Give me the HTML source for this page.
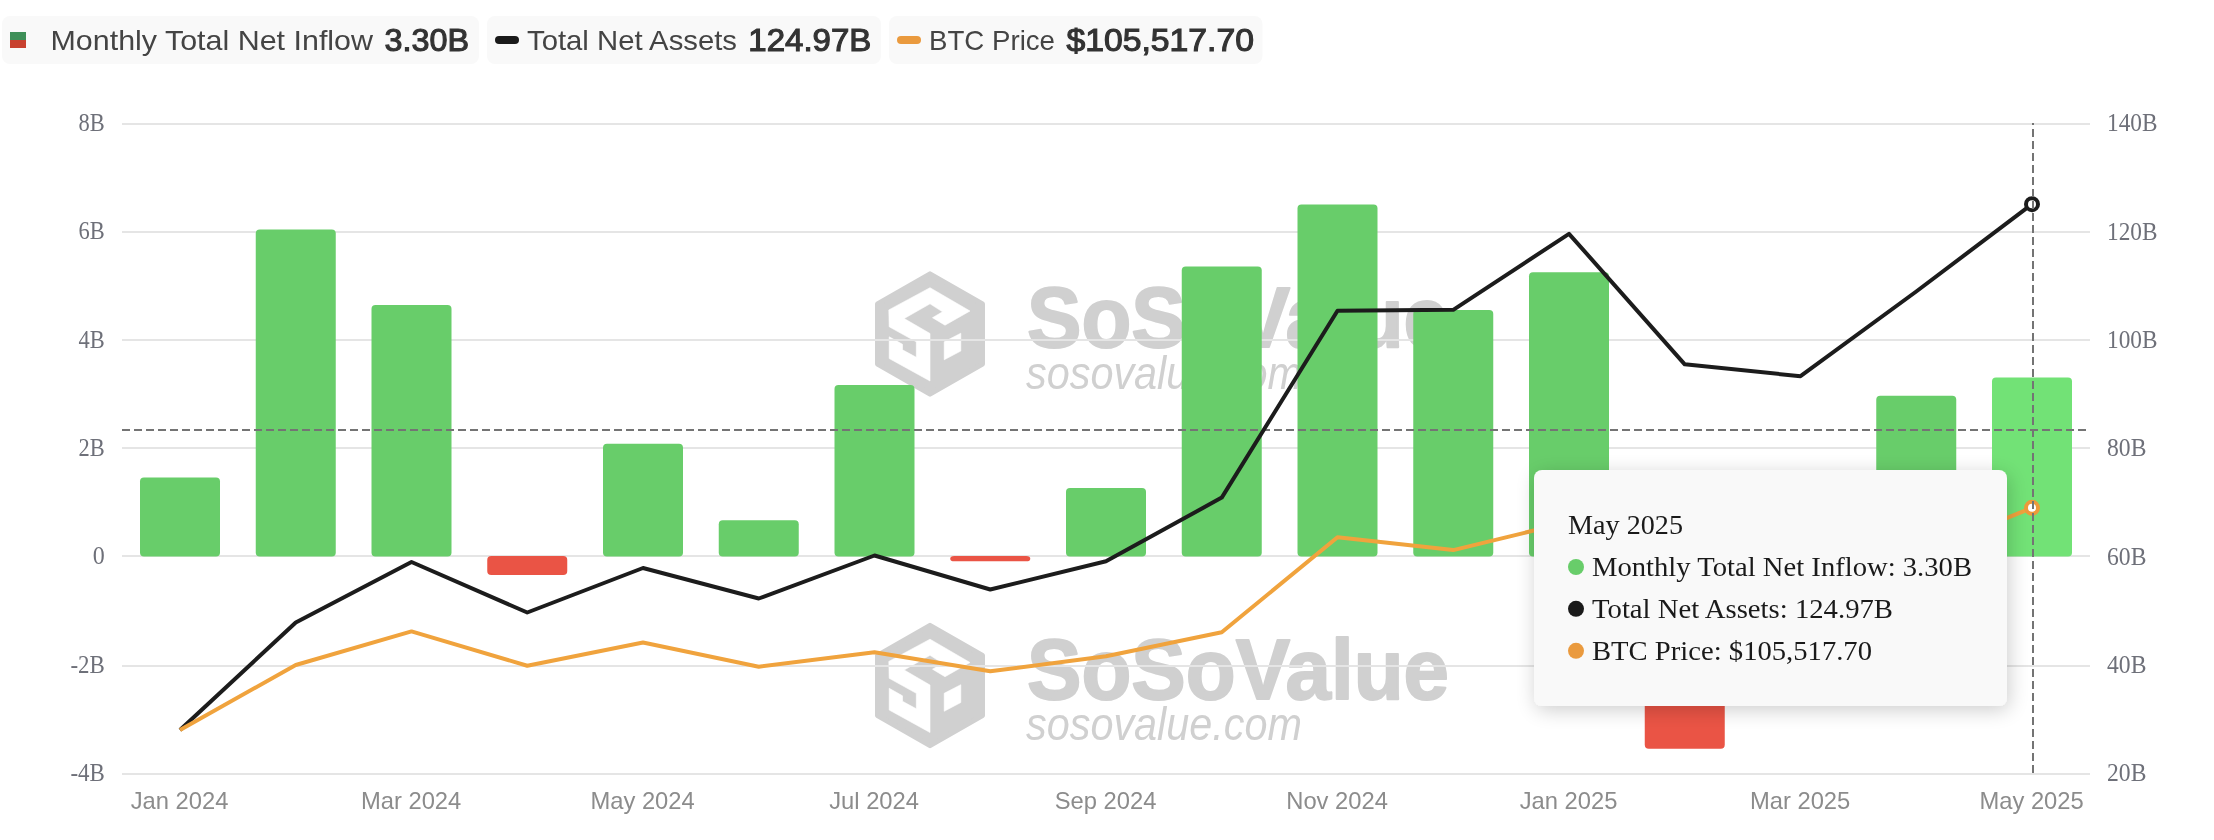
<!DOCTYPE html>
<html><head><meta charset="utf-8"><title>chart</title>
<style>
html,body{margin:0;padding:0;background:#fff;}
svg{display:block;will-change:transform;}
</style></head><body>
<svg width="2214" height="840" viewBox="0 0 2214 840">
<defs>
<filter id="shadow" x="-20%" y="-30%" width="140%" height="160%">
<feGaussianBlur in="SourceAlpha" stdDeviation="10"/>
<feOffset dx="2" dy="4" result="b"/>
<feComponentTransfer><feFuncA type="linear" slope="0.2"/></feComponentTransfer>
<feMerge><feMergeNode/><feMergeNode in="SourceGraphic"/></feMerge>
</filter>
</defs>
<rect x="0" y="0" width="2214" height="840" fill="#ffffff"/>

<g>
<rect x="2" y="16" width="477" height="48" rx="8" fill="#f9f9f9"/>
<rect x="487" y="16" width="394" height="48" rx="8" fill="#f9f9f9"/>
<rect x="889" y="16" width="373.5" height="48" rx="8" fill="#f9f9f9"/>
<rect x="10" y="32" width="16" height="8" fill="#3e8f58"/>
<rect x="10" y="40" width="16" height="8" fill="#c8412f"/>
<rect x="495" y="36" width="24" height="8" rx="4" fill="#1a1a1a"/>
<rect x="897" y="36" width="24" height="8" rx="4" fill="#ea9a3e"/>
<text x="50.5" y="49.6" font-family='"Liberation Sans", sans-serif' font-size="28" font-weight="normal" font-style="normal" fill="#444444" text-anchor="start" textLength="322.5" lengthAdjust="spacingAndGlyphs">Monthly Total Net Inflow</text>
<text x="384.5" y="51.4" font-family='"Liberation Sans", sans-serif' font-size="31" font-weight="normal" font-style="normal" fill="#333333" text-anchor="start" textLength="84.5" lengthAdjust="spacingAndGlyphs" stroke="#333333" stroke-width="1.1">3.30B</text>
<text x="527" y="49.6" font-family='"Liberation Sans", sans-serif' font-size="28" font-weight="normal" font-style="normal" fill="#444444" text-anchor="start" textLength="210" lengthAdjust="spacingAndGlyphs">Total Net Assets</text>
<text x="748.3" y="51.4" font-family='"Liberation Sans", sans-serif' font-size="31" font-weight="normal" font-style="normal" fill="#333333" text-anchor="start" textLength="123" lengthAdjust="spacingAndGlyphs" stroke="#333333" stroke-width="1.1">124.97B</text>
<text x="929" y="49.6" font-family='"Liberation Sans", sans-serif' font-size="28" font-weight="normal" font-style="normal" fill="#444444" text-anchor="start" textLength="126" lengthAdjust="spacingAndGlyphs">BTC Price</text>
<text x="1066.5" y="51.4" font-family='"Liberation Sans", sans-serif' font-size="31" font-weight="normal" font-style="normal" fill="#333333" text-anchor="start" textLength="187.5" lengthAdjust="spacingAndGlyphs" stroke="#333333" stroke-width="1.1">$105,517.70</text>
</g>
<path d="M930,273.8 L982.5,304 L982.5,364 L930,394.2 L877.5,364 L877.5,304 Z" fill="#d0d0d0" stroke="#d0d0d0" stroke-width="5" stroke-linejoin="round"/>
<path d="M888.8,309.9 L930.0,287.7 L970.0,311.0 L945.0,325.2 L932.5,317.7 L942.5,311.8 L930.0,303.8 L904.2,318.5 L930.0,333.5 L930.0,381.0 L889.2,358.5 L889.2,336.8 L902.5,344.3 L902.5,349.8 L916.3,357.3 L916.3,341.8 L889.2,326.8 Z" fill="#ffffff" stroke="#ffffff" stroke-width="0.6" stroke-linejoin="round"/>
<path d="M944.2,341.8 L960.8,333.2 L960.8,351.0 L944.2,359.8 Z" fill="#ffffff" stroke="#ffffff" stroke-width="0.6" stroke-linejoin="round"/>
<text x="1027" y="347" font-family='"Liberation Sans", sans-serif' font-size="86" font-weight="bold" font-style="normal" fill="#d0d0d0" text-anchor="start" textLength="422" lengthAdjust="spacingAndGlyphs" stroke="#d0d0d0" stroke-width="2" stroke-linejoin="round">SoSoValue</text>
<text x="1026" y="388.5" font-family='"Liberation Sans", sans-serif' font-size="46" font-weight="normal" font-style="italic" fill="#d0d0d0" text-anchor="start" textLength="276" lengthAdjust="spacingAndGlyphs">sosovalue.com</text>
<path d="M930,625.3 L982.5,655.5 L982.5,715.5 L930,745.7 L877.5,715.5 L877.5,655.5 Z" fill="#d0d0d0" stroke="#d0d0d0" stroke-width="5" stroke-linejoin="round"/>
<path d="M888.8,661.4 L930.0,639.2 L970.0,662.5 L945.0,676.7 L932.5,669.2 L942.5,663.3 L930.0,655.3 L904.2,670.0 L930.0,685.0 L930.0,732.5 L889.2,710.0 L889.2,688.3 L902.5,695.8 L902.5,701.3 L916.3,708.8 L916.3,693.3 L889.2,678.3 Z" fill="#ffffff" stroke="#ffffff" stroke-width="0.6" stroke-linejoin="round"/>
<path d="M944.2,693.3 L960.8,684.7 L960.8,702.5 L944.2,711.3 Z" fill="#ffffff" stroke="#ffffff" stroke-width="0.6" stroke-linejoin="round"/>
<text x="1027" y="698.5" font-family='"Liberation Sans", sans-serif' font-size="86" font-weight="bold" font-style="normal" fill="#d0d0d0" text-anchor="start" textLength="422" lengthAdjust="spacingAndGlyphs" stroke="#d0d0d0" stroke-width="2" stroke-linejoin="round">SoSoValue</text>
<text x="1026" y="740.2" font-family='"Liberation Sans", sans-serif' font-size="46" font-weight="normal" font-style="italic" fill="#d0d0d0" text-anchor="start" textLength="276" lengthAdjust="spacingAndGlyphs">sosovalue.com</text>
<rect x="122" y="123" width="1968" height="2" fill="#e5e5e5"/>
<rect x="122" y="231" width="1968" height="2" fill="#e5e5e5"/>
<rect x="122" y="339" width="1968" height="2" fill="#e5e5e5"/>
<rect x="122" y="447" width="1968" height="2" fill="#e5e5e5"/>
<rect x="122" y="555" width="1968" height="2" fill="#e5e5e5"/>
<rect x="122" y="665" width="1968" height="2" fill="#e5e5e5"/>
<rect x="122" y="773" width="1968" height="2" fill="#e5e5e5"/>
<text x="104.8" y="131.1" font-family='"Liberation Serif", serif' font-size="24.6" font-weight="normal" font-style="normal" fill="#6e7079" text-anchor="end" textLength="26.2" lengthAdjust="spacingAndGlyphs">8B</text>
<text x="104.8" y="239.4" font-family='"Liberation Serif", serif' font-size="24.6" font-weight="normal" font-style="normal" fill="#6e7079" text-anchor="end" textLength="26.2" lengthAdjust="spacingAndGlyphs">6B</text>
<text x="104.8" y="347.8" font-family='"Liberation Serif", serif' font-size="24.6" font-weight="normal" font-style="normal" fill="#6e7079" text-anchor="end" textLength="26.2" lengthAdjust="spacingAndGlyphs">4B</text>
<text x="104.8" y="456.1" font-family='"Liberation Serif", serif' font-size="24.6" font-weight="normal" font-style="normal" fill="#6e7079" text-anchor="end" textLength="26.2" lengthAdjust="spacingAndGlyphs">2B</text>
<text x="104.8" y="564.4" font-family='"Liberation Serif", serif' font-size="24.6" font-weight="normal" font-style="normal" fill="#6e7079" text-anchor="end" textLength="12" lengthAdjust="spacingAndGlyphs">0</text>
<text x="104.8" y="672.8" font-family='"Liberation Serif", serif' font-size="24.6" font-weight="normal" font-style="normal" fill="#6e7079" text-anchor="end" textLength="34.4" lengthAdjust="spacingAndGlyphs">-2B</text>
<text x="104.8" y="781.1" font-family='"Liberation Serif", serif' font-size="24.6" font-weight="normal" font-style="normal" fill="#6e7079" text-anchor="end" textLength="34.4" lengthAdjust="spacingAndGlyphs">-4B</text>
<text x="2107" y="131.2" font-family='"Liberation Serif", serif' font-size="24.6" font-weight="normal" font-style="normal" fill="#6e7079" text-anchor="start" textLength="50.5" lengthAdjust="spacingAndGlyphs">140B</text>
<text x="2107" y="239.5" font-family='"Liberation Serif", serif' font-size="24.6" font-weight="normal" font-style="normal" fill="#6e7079" text-anchor="start" textLength="50.5" lengthAdjust="spacingAndGlyphs">120B</text>
<text x="2107" y="347.9" font-family='"Liberation Serif", serif' font-size="24.6" font-weight="normal" font-style="normal" fill="#6e7079" text-anchor="start" textLength="50.5" lengthAdjust="spacingAndGlyphs">100B</text>
<text x="2107" y="456.2" font-family='"Liberation Serif", serif' font-size="24.6" font-weight="normal" font-style="normal" fill="#6e7079" text-anchor="start" textLength="39.4" lengthAdjust="spacingAndGlyphs">80B</text>
<text x="2107" y="564.5" font-family='"Liberation Serif", serif' font-size="24.6" font-weight="normal" font-style="normal" fill="#6e7079" text-anchor="start" textLength="39.4" lengthAdjust="spacingAndGlyphs">60B</text>
<text x="2107" y="672.8" font-family='"Liberation Serif", serif' font-size="24.6" font-weight="normal" font-style="normal" fill="#6e7079" text-anchor="start" textLength="39.4" lengthAdjust="spacingAndGlyphs">40B</text>
<text x="2107" y="781.2" font-family='"Liberation Serif", serif' font-size="24.6" font-weight="normal" font-style="normal" fill="#6e7079" text-anchor="start" textLength="39.4" lengthAdjust="spacingAndGlyphs">20B</text>
<text x="179.60" y="808.6" font-family='"Liberation Sans", sans-serif' font-size="24" font-weight="normal" font-style="normal" fill="#8c8c8c" text-anchor="middle" textLength="97.78" lengthAdjust="spacingAndGlyphs">Jan 2024</text>
<text x="411.10" y="808.6" font-family='"Liberation Sans", sans-serif' font-size="24" font-weight="normal" font-style="normal" fill="#8c8c8c" text-anchor="middle" textLength="100.38" lengthAdjust="spacingAndGlyphs">Mar 2024</text>
<text x="642.60" y="808.6" font-family='"Liberation Sans", sans-serif' font-size="24" font-weight="normal" font-style="normal" fill="#8c8c8c" text-anchor="middle" textLength="104.36" lengthAdjust="spacingAndGlyphs">May 2024</text>
<text x="874.10" y="808.6" font-family='"Liberation Sans", sans-serif' font-size="24" font-weight="normal" font-style="normal" fill="#8c8c8c" text-anchor="middle" textLength="89.84" lengthAdjust="spacingAndGlyphs">Jul 2024</text>
<text x="1105.60" y="808.6" font-family='"Liberation Sans", sans-serif' font-size="24" font-weight="normal" font-style="normal" fill="#8c8c8c" text-anchor="middle" textLength="101.74" lengthAdjust="spacingAndGlyphs">Sep 2024</text>
<text x="1337.10" y="808.6" font-family='"Liberation Sans", sans-serif' font-size="24" font-weight="normal" font-style="normal" fill="#8c8c8c" text-anchor="middle" textLength="101.72" lengthAdjust="spacingAndGlyphs">Nov 2024</text>
<text x="1568.60" y="808.6" font-family='"Liberation Sans", sans-serif' font-size="24" font-weight="normal" font-style="normal" fill="#8c8c8c" text-anchor="middle" textLength="97.78" lengthAdjust="spacingAndGlyphs">Jan 2025</text>
<text x="1800.10" y="808.6" font-family='"Liberation Sans", sans-serif' font-size="24" font-weight="normal" font-style="normal" fill="#8c8c8c" text-anchor="middle" textLength="100.38" lengthAdjust="spacingAndGlyphs">Mar 2025</text>
<text x="2031.60" y="808.6" font-family='"Liberation Sans", sans-serif' font-size="24" font-weight="normal" font-style="normal" fill="#8c8c8c" text-anchor="middle" textLength="104.36" lengthAdjust="spacingAndGlyphs">May 2025</text>
<rect x="140.0" y="477.4" width="80" height="79.10" rx="4" fill="#68cd6a"/>
<rect x="255.75" y="229.4" width="80" height="327.10" rx="4" fill="#68cd6a"/>
<rect x="371.5" y="305.1" width="80" height="251.40" rx="4" fill="#68cd6a"/>
<rect x="487.25" y="556" width="80" height="19.00" rx="4" fill="#ea5445"/>
<rect x="603.0" y="443.7" width="80" height="112.80" rx="4" fill="#68cd6a"/>
<rect x="718.75" y="520.3" width="80" height="36.20" rx="4" fill="#68cd6a"/>
<rect x="834.5" y="385" width="80" height="171.50" rx="4" fill="#68cd6a"/>
<rect x="950.25" y="556" width="80" height="5.25" rx="4" fill="#ea5445"/>
<rect x="1066.0" y="488" width="80" height="68.50" rx="4" fill="#68cd6a"/>
<rect x="1181.75" y="266.6" width="80" height="289.90" rx="4" fill="#68cd6a"/>
<rect x="1297.5" y="204.5" width="80" height="352.00" rx="4" fill="#68cd6a"/>
<rect x="1413.25" y="310.1" width="80" height="246.40" rx="4" fill="#68cd6a"/>
<rect x="1529.0" y="272.2" width="80" height="284.30" rx="4" fill="#68cd6a"/>
<rect x="1644.75" y="556" width="80" height="192.75" rx="4" fill="#ea5445"/>
<rect x="1760.5" y="556" width="80" height="41.00" rx="4" fill="#ea5445"/>
<rect x="1876.25" y="395.7" width="80" height="160.80" rx="4" fill="#68cd6a"/>
<rect x="1992.0" y="377.4" width="80" height="179.10" rx="4" fill="#72e276"/>
<line x1="122" y1="430" x2="2090" y2="430" stroke="#747474" stroke-width="2" stroke-dasharray="8 4"/>
<polyline points="180.00,730 295.75,622.5 411.50,562 527.25,612.5 643.00,568 758.75,598.5 874.50,555.5 990.25,589.5 1106.00,561.3 1221.75,497.6 1337.50,310.8 1453.25,309.8 1569.00,233.8 1684.75,364.3 1800.50,376.2 1916.25,291.5 2032.00,204.2" fill="none" stroke="#1c1c1c" stroke-width="4" stroke-linejoin="round"/>
<polyline points="180.00,730 295.75,665 411.50,631.4 527.25,665.75 643.00,642.5 758.75,666.75 874.50,652.3 990.25,671.25 1106.00,656.3 1221.75,632.2 1337.50,537.3 1453.25,550.1 1569.00,522 1684.75,580 1800.50,587 1916.25,554.6 2032.00,507.8" fill="none" stroke="#f0a33d" stroke-width="4" stroke-linejoin="round"/>
<circle cx="2032" cy="204.2" r="6" fill="#ffffff" stroke="#1c1c1c" stroke-width="4"/>
<circle cx="2032" cy="507.8" r="6" fill="#ffffff" stroke="#ee9a3a" stroke-width="4"/>
<line x1="2033" y1="123" x2="2033" y2="773" stroke="#747474" stroke-width="2" stroke-dasharray="8 4" stroke-dashoffset="6"/>
<rect x="1534" y="470" width="473" height="236" rx="8" fill="#f9f9f9" filter="url(#shadow)"/>
<text x="1568" y="534.2" font-family='"Liberation Serif", serif' font-size="28" font-weight="normal" font-style="normal" fill="#1a1a1a" text-anchor="start" textLength="115" lengthAdjust="spacingAndGlyphs">May 2025</text>
<circle cx="1576" cy="567" r="8" fill="#68cd6a"/>
<text x="1592" y="575.8" font-family='"Liberation Serif", serif' font-size="28" font-weight="normal" font-style="normal" fill="#1a1a1a" text-anchor="start" textLength="380" lengthAdjust="spacingAndGlyphs">Monthly Total Net Inflow: 3.30B</text>
<circle cx="1576" cy="608.8" r="8" fill="#1a1a1a"/>
<text x="1592" y="618.3" font-family='"Liberation Serif", serif' font-size="28" font-weight="normal" font-style="normal" fill="#1a1a1a" text-anchor="start" textLength="301" lengthAdjust="spacingAndGlyphs">Total Net Assets: 124.97B</text>
<circle cx="1576" cy="650.8" r="8" fill="#ea9a3e"/>
<text x="1592" y="660" font-family='"Liberation Serif", serif' font-size="28" font-weight="normal" font-style="normal" fill="#1a1a1a" text-anchor="start" textLength="280" lengthAdjust="spacingAndGlyphs">BTC Price: $105,517.70</text>
</svg></body></html>
